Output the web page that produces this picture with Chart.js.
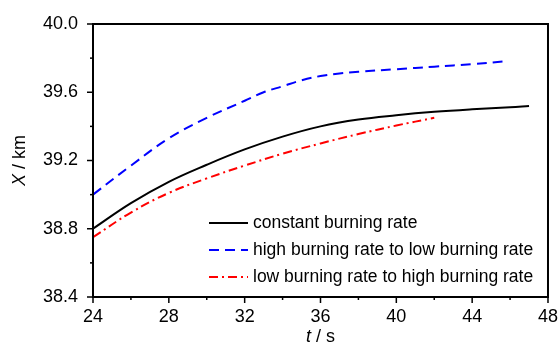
<!DOCTYPE html>
<html>
<head>
<meta charset="utf-8">
<script src="https://cdn.jsdelivr.net/npm/chart.js@4"></script>
<style>
  html, body { margin: 0; padding: 0; background: #fff; }
  #wrap { width: 559px; height: 346px; }
</style>
</head>
<body>
<div id="wrap"><canvas id="distChart" width="559" height="346"></canvas></div>
<script>
// time (s) and distance X (km)
const tConst = [24, 26, 28, 30, 32, 34, 36, 38, 40, 42, 44, 46, 47];
const xConst = [38.80, 38.95, 39.075, 39.175, 39.265, 39.34, 39.40, 39.44, 39.465, 39.485, 39.50, 39.512, 39.52];

const tHigh = [24, 26, 28, 30, 32, 33, 34, 35, 36, 37, 38, 40, 42, 44, 45.6];
const xHigh = [39.0, 39.17, 39.33, 39.45, 39.55, 39.60, 39.635, 39.67, 39.695, 39.71, 39.72, 39.735, 39.75, 39.765, 39.78];

const tLow = [24, 26, 28, 30, 32, 34, 36, 38, 40, 42];
const xLow = [38.75, 38.895, 39.01, 39.095, 39.17, 39.24, 39.30, 39.355, 39.405, 39.45];

const seriesNames = [
  "constant burning rate",
  "high burning rate to low burning rate",
  "low burning rate to high burning rate",
];

const toPoints = (ts, xs) => ts.map((t, i) => ({ x: t, y: xs[i] }));

const FONT = "'Liberation Sans', Arial, sans-serif";

// ticks, frame, axis titles and legend drawn by hand
const figurePlugin = {
  id: "figure",
  afterDraw(chart) {
    const ctx = chart.ctx;
    const area = chart.chartArea;
    const xs = chart.scales.x;
    const ys = chart.scales.y;
    ctx.save();

    // frame
    ctx.strokeStyle = "#000";
    ctx.lineWidth = 2;
    ctx.strokeRect(area.left, area.top, area.right - area.left, area.bottom - area.top);

    // tick marks (outward, minor ones shorter)
    ctx.lineWidth = 1.5;
    xs.ticks.forEach((tk, i) => {
      const px = xs.getPixelForValue(tk.value);
      const len = i % 2 === 0 ? 6 : 3;
      ctx.beginPath();
      ctx.moveTo(px, area.bottom);
      ctx.lineTo(px, area.bottom + len);
      ctx.stroke();
    });
    ys.ticks.forEach((tk, i) => {
      const py = ys.getPixelForValue(tk.value);
      const len = i % 2 === 0 ? 6 : 3;
      ctx.beginPath();
      ctx.moveTo(area.left, py);
      ctx.lineTo(area.left - len, py);
      ctx.stroke();
    });

    // x title: "t / s"
    ctx.fillStyle = "#000";
    ctx.textBaseline = "middle";
    const cx = (area.left + area.right) / 2;
    ctx.font = "italic 18px " + FONT;
    const wT = ctx.measureText("t").width;
    ctx.font = "18px " + FONT;
    const wRest = ctx.measureText(" / s").width;
    let sx = cx - (wT + wRest) / 2;
    ctx.textAlign = "left";
    ctx.font = "italic 18px " + FONT;
    ctx.fillText("t", sx, 337);
    ctx.font = "18px " + FONT;
    ctx.fillText(" / s", sx + wT, 337);

    // y title: "X / km"
    ctx.save();
    ctx.translate(20, (area.top + area.bottom) / 2);
    ctx.rotate(-Math.PI / 2);
    ctx.font = "italic 18px " + FONT;
    const wX = ctx.measureText("X").width;
    ctx.font = "18px " + FONT;
    const wKm = ctx.measureText(" / km").width;
    sx = -(wX + wKm) / 2;
    ctx.font = "italic 18px " + FONT;
    ctx.fillText("X", sx, 0);
    ctx.font = "18px " + FONT;
    ctx.fillText(" / km", sx + wX, 0);
    ctx.restore();

    // legend inside the plot
    const rows = [area.bottom - 74, area.bottom - 47, area.bottom - 20];
    chart.data.datasets.forEach((ds, i) => {
      const y = rows[i];
      ctx.strokeStyle = ds.borderColor;
      ctx.lineWidth = ds.borderWidth;
      ctx.setLineDash(ds.borderDash || []);
      ctx.beginPath();
      ctx.moveTo(area.left + 116, y);
      ctx.lineTo(area.left + 155, y);
      ctx.stroke();
      ctx.setLineDash([]);
      ctx.fillStyle = "#000";
      ctx.font = "17.5px " + FONT;
      ctx.textAlign = "left";
      ctx.fillText(ds.label, area.left + 160, y);
    });

    ctx.restore();
  },
};

const distChart = new Chart(document.getElementById("distChart").getContext("2d"), {
  type: "line",
  data: {
    datasets: [
      {
        label: seriesNames[0],
        data: toPoints(tConst, xConst),
        borderColor: "#000000",
        borderWidth: 2,
        pointRadius: 0,
        tension: 0.4,
      },
      {
        label: seriesNames[1],
        data: toPoints(tHigh, xHigh),
        borderColor: "#0000ff",
        borderWidth: 2,
        borderDash: [10, 6],
        pointRadius: 0,
        tension: 0.4,
      },
      {
        label: seriesNames[2],
        data: toPoints(tLow, xLow),
        borderColor: "#ff0000",
        borderWidth: 2,
        borderDash: [9, 4, 2, 4],
        pointRadius: 0,
        tension: 0.4,
      },
    ],
  },
  options: {
    responsive: false,
    animation: false,
    layout: { padding: { top: 24, right: 11, left: 0, bottom: 0 } },
    plugins: {
      legend: { display: false },
      tooltip: { enabled: false },
    },
    scales: {
      x: {
        type: "linear",
        min: 24,
        max: 48,
        grid: { display: false },
        border: { display: false },
        ticks: {
          stepSize: 2,
          color: "#000",
          font: { family: FONT, size: 18 },
          padding: 1,
          maxRotation: 0,
          autoSkip: false,
          callback: (v, i) => (i % 2 === 0 ? String(v) : ""),
        },
        afterFit: (scale) => { scale.height = 49; },
      },
      y: {
        min: 38.4,
        max: 40.0,
        grid: { display: false },
        border: { display: false },
        ticks: {
          stepSize: 0.2,
          color: "#000",
          font: { family: FONT, size: 18 },
          padding: 7,
          autoSkip: false,
          callback: (v, i) => (i % 2 === 0 ? v.toFixed(1) : ""),
        },
        afterFit: (scale) => { scale.width = 93; },
      },
    },
  },
  plugins: [figurePlugin],
});
</script>
</body>
</html>
